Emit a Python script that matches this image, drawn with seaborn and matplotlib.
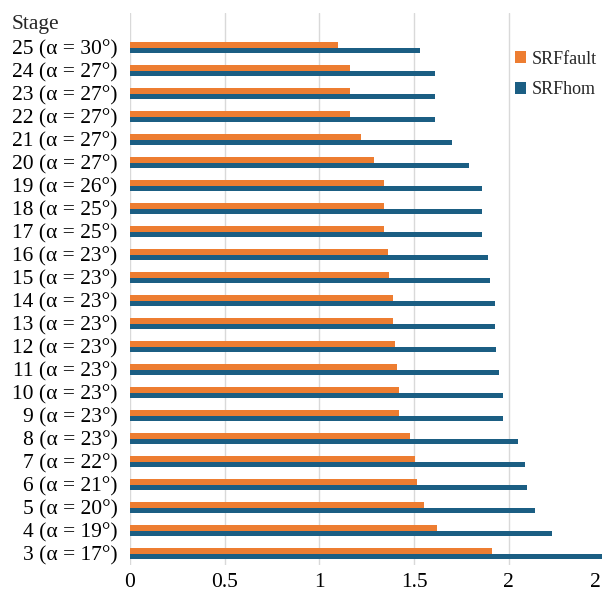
import matplotlib
matplotlib.use("Agg")
import matplotlib.pyplot as plt
import seaborn as sns
import pandas as pd
import numpy as np

stages = [25, 24, 23, 22, 21, 20, 19, 18, 17, 16, 15, 14, 13, 12, 11, 10, 9, 8, 7, 6, 5, 4, 3]
alphas = [30, 27, 27, 27, 27, 27, 26, 25, 25, 23, 23, 23, 23, 23, 23, 23, 23, 23, 22, 21, 20, 19, 17]
srf_fault = [1.10, 1.16, 1.16, 1.16, 1.22, 1.29, 1.34, 1.34, 1.34, 1.36, 1.37, 1.39, 1.39, 1.40, 1.41,
             1.42, 1.42, 1.48, 1.505, 1.515, 1.55, 1.62, 1.91]
srf_hom = [1.53, 1.61, 1.61, 1.61, 1.70, 1.79, 1.86, 1.86, 1.86, 1.89, 1.90, 1.925, 1.925, 1.935, 1.95,
           1.97, 1.97, 2.05, 2.085, 2.095, 2.14, 2.23, 2.52]
x_ticks = [0, 0.5, 1, 1.5, 2, 2.5]
x_ticklabels = ["0", "0.5", "1", "1.5", "2", "2.5"]
header = "Stage"

labels = [f"{s} (\u03b1 = {a}\u00b0)" for s, a in zip(stages, alphas)]
order = [header] + labels

rows = []
for lab, f, h in zip(labels, srf_fault, srf_hom):
    rows.append({"stage": lab, "series": "SRFfault", "value": f})
    rows.append({"stage": lab, "series": "SRFhom", "value": h})
df = pd.DataFrame(rows)

sns.set_theme(style="white")
plt.rcParams["font.family"] = "serif"
plt.rcParams["font.serif"] = ["Liberation Serif", "DejaVu Serif"]

fig = plt.figure(figsize=(6.02, 5.92), dpi=100)
ax = fig.add_axes([130 / 602, 1 - 565 / 592, 473.5 / 602, 552 / 592])

sns.barplot(data=df, y="stage", x="value", hue="series", order=order,
            hue_order=["SRFfault", "SRFhom"],
            palette={"SRFfault": "#ED7D31", "SRFhom": "#1B5E83"},
            orient="h", width=0.5, ax=ax, errorbar=None, saturation=1.0, legend=True,
            linewidth=0)

ax.set_xlim(0, 2.5)
ax.set_ylim(len(order) - 0.5, -0.5)
ax.set_xticks(x_ticks)
ax.set_xticklabels(x_ticklabels)
ax.set_xlabel("")
ax.set_ylabel("")
ax.grid(axis="x", color="#D9D9D9", linewidth=1.0)
ax.grid(axis="y", visible=False)
ax.set_axisbelow(True)
for sp in ax.spines.values():
    sp.set_visible(False)
ax.tick_params(axis="both", length=0, labelsize=15.5, colors="black")
ax.tick_params(axis="y", pad=9)
ax.tick_params(axis="x", pad=6)

# header label: left-aligned like the reference
ax.set_yticks(range(len(order)))
ax.set_yticklabels([""] + labels)
ax.text(12 / 602, 0, header,
        transform=matplotlib.transforms.blended_transform_factory(fig.transFigure, ax.transData),
        ha="left", va="center", fontsize=15.5)

leg = ax.legend(loc="upper left", bbox_to_anchor=(381 / 473.5, 1 - 34 / 552), frameon=True,
                fontsize=13, handlelength=0.65, handleheight=0.65, handletextpad=0.3,
                labelspacing=0.75, borderpad=0.2, borderaxespad=0)
leg.get_frame().set_edgecolor("white")
leg.get_frame().set_facecolor("white")
leg.get_frame().set_alpha(1.0)

fig.savefig("out.png", dpi=100)
